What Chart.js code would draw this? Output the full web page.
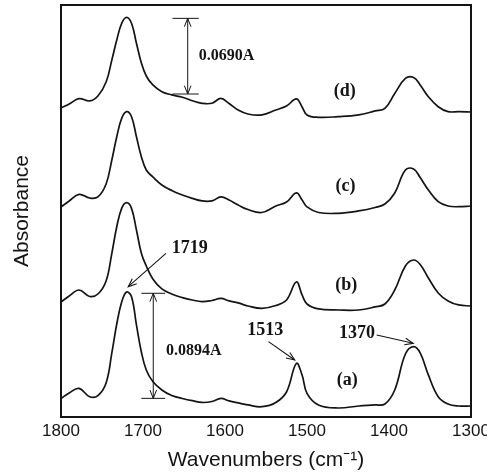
<!DOCTYPE html>
<html>
<head>
<meta charset="utf-8">
<script src="https://cdn.jsdelivr.net/npm/chart.js@4.4.1/dist/chart.umd.min.js"></script>
<style>
  html, body { margin: 0; padding: 0; background: #fff; }
  #wrap { width: 487px; height: 475px; position: relative; }
</style>
</head>
<body>
<div id="wrap"><canvas id="ir"></canvas></div>
<script>
// Stacked IR spectra (a)-(d), reversed wavenumber axis, absorbance without ticks.

const wavenumbers = [1800, 1790, 1778, 1765, 1755, 1745, 1738, 1732, 1726, 1720,
  1714, 1708, 1702, 1696, 1688, 1677, 1665, 1652, 1640, 1628,
  1616, 1605, 1595, 1584, 1572, 1555, 1538, 1525, 1513, 1506,
  1500, 1486, 1462, 1437, 1417, 1405, 1393, 1380, 1370, 1362,
  1352, 1340, 1328, 1315, 1300];

// absorbance as plotted (offsets already included)
const traceA = [0.0523, 0.0570, 0.0609, 0.0538, 0.0548, 0.0655, 0.0910, 0.1156, 0.1343, 0.1428,
  0.1388, 0.1148, 0.0918, 0.0765, 0.0667, 0.0595, 0.0548, 0.0523, 0.0504, 0.0489,
  0.0497, 0.0523, 0.0502, 0.0485, 0.0468, 0.0453, 0.0489, 0.0578, 0.0820, 0.0723,
  0.0567, 0.0468, 0.0442, 0.0459, 0.0468, 0.0476, 0.0595, 0.0901, 0.0963, 0.0910,
  0.0723, 0.0538, 0.0476, 0.0459, 0.0459];
const traceB = [0.1343, 0.1394, 0.1445, 0.1390, 0.1411, 0.1522, 0.1757, 0.1983, 0.2139, 0.2187,
  0.2139, 0.1955, 0.1757, 0.1649, 0.1539, 0.1454, 0.1411, 0.1380, 0.1360, 0.1347,
  0.1356, 0.1373, 0.1352, 0.1335, 0.1309, 0.1289, 0.1313, 0.1360, 0.1513, 0.1403,
  0.1326, 0.1284, 0.1275, 0.1275, 0.1301, 0.1326, 0.1445, 0.1649, 0.1700, 0.1662,
  0.1547, 0.1420, 0.1352, 0.1318, 0.1309];
const traceC = [0.2151, 0.2202, 0.2258, 0.2227, 0.2236, 0.2346, 0.2550, 0.2748, 0.2904, 0.2961,
  0.2918, 0.2748, 0.2578, 0.2465, 0.2406, 0.2338, 0.2291, 0.2253, 0.2224, 0.2202,
  0.2202, 0.2236, 0.2210, 0.2168, 0.2129, 0.2104, 0.2159, 0.2193, 0.2270, 0.2210,
  0.2151, 0.2104, 0.2097, 0.2117, 0.2146, 0.2176, 0.2270, 0.2465, 0.2474, 0.2401,
  0.2295, 0.2196, 0.2159, 0.2153, 0.2159];
const traceD = [0.2992, 0.3026, 0.3071, 0.3052, 0.3094, 0.3213, 0.3400, 0.3570, 0.3712, 0.3763,
  0.3712, 0.3542, 0.3375, 0.3264, 0.3188, 0.3131, 0.3103, 0.3083, 0.3054, 0.3032,
  0.3032, 0.3073, 0.3030, 0.2975, 0.2941, 0.2933, 0.2975, 0.3009, 0.3069, 0.3001,
  0.2933, 0.2913, 0.2918, 0.2933, 0.2967, 0.2989, 0.3115, 0.3243, 0.3251, 0.3188,
  0.3088, 0.3003, 0.2961, 0.2961, 0.2958];

const xTicks = [1800, 1700, 1600, 1500, 1400, 1300];

// trace letters: [text, wavenumber, absorbance]
const traceLabels = [
  ['(d)', 1454, 0.3137],
  ['(c)', 1453, 0.2323],
  ['(b)', 1452, 0.1488],
  ['(a)', 1451, 0.0680],
];

// height bars: [label, wavenumber, top A, bottom A, cap from, cap to, label wn, label A]
const heightBars = [
  ['0.0690A', 1645.5, 0.3754, 0.3111, 1664, 1632, 1632, 0.3434],
  ['0.0894A', 1687.5, 0.1417, 0.0524, 1702, 1673, 1672, 0.0929],
];

// peak callouts: [label, label wn, label A, arrow from wn, from A, to wn, to A]
const peakCallouts = [
  ['1719', 1643, 0.1802, 1672, 0.1757, 1718, 0.1473],
  ['1513', 1551, 0.1105, 1547, 0.1006, 1515, 0.0850],
  ['1370', 1439, 0.1077, 1415, 0.1063, 1370.5, 0.0992],
];

const INK = '#141414';
const SERIF = "'Liberation Serif', 'Times New Roman', serif";
const SANS = "'Liberation Sans', Arial, sans-serif";

function openHead(ctx, x1, y1, x2, y2, len) {
  const a = Math.atan2(y2 - y1, x2 - x1);
  const spread = 0.38;
  ctx.beginPath();
  ctx.moveTo(x2 - len * Math.cos(a - spread), y2 - len * Math.sin(a - spread));
  ctx.lineTo(x2, y2);
  ctx.lineTo(x2 - len * Math.cos(a + spread), y2 - len * Math.sin(a + spread));
  ctx.stroke();
}

const annotate = {
  id: 'annotate',
  afterDatasetsDraw(chart) {
    const { ctx, chartArea: ca, scales: { x, y } } = chart;
    ctx.save();
    ctx.strokeStyle = INK;
    ctx.fillStyle = INK;

    // frame
    ctx.lineWidth = 2;
    ctx.strokeRect(ca.left, ca.top, ca.right - ca.left, ca.bottom - ca.top);

    // trace letters
    ctx.font = 'bold 18px ' + SERIF;
    ctx.textAlign = 'center';
    ctx.textBaseline = 'middle';
    for (const [t, wn, a] of traceLabels) ctx.fillText(t, x.getPixelForValue(wn), y.getPixelForValue(a));

    // height bars with double arrows
    ctx.lineWidth = 1;
    for (const [t, wn, top, bot, c1, c2, lw, la] of heightBars) {
      const px = x.getPixelForValue(wn);
      const pt = y.getPixelForValue(top), pb = y.getPixelForValue(bot);
      ctx.beginPath();
      ctx.moveTo(x.getPixelForValue(c1), pt); ctx.lineTo(x.getPixelForValue(c2), pt);
      ctx.moveTo(x.getPixelForValue(c1), pb); ctx.lineTo(x.getPixelForValue(c2), pb);
      ctx.moveTo(px, pt); ctx.lineTo(px, pb);
      ctx.stroke();
      openHead(ctx, px, pb, px, pt, 9);
      openHead(ctx, px, pt, px, pb, 9);
      ctx.font = 'bold 16px ' + SERIF;
      ctx.textAlign = 'left';
      ctx.fillText(t, x.getPixelForValue(lw), y.getPixelForValue(la));
    }

    // peak callouts
    for (const [t, lw, la, fw, fa, tw, ta] of peakCallouts) {
      const x1 = x.getPixelForValue(fw), y1 = y.getPixelForValue(fa);
      const x2 = x.getPixelForValue(tw), y2 = y.getPixelForValue(ta);
      ctx.lineWidth = 1.1;
      ctx.beginPath(); ctx.moveTo(x1, y1); ctx.lineTo(x2, y2); ctx.stroke();
      openHead(ctx, x1, y1, x2, y2, 9);
      ctx.font = 'bold 18px ' + SERIF;
      ctx.textAlign = 'center';
      ctx.fillText(t, x.getPixelForValue(lw), y.getPixelForValue(la));
    }
    ctx.restore();
  }
};

const series = [traceA, traceB, traceC, traceD];

new Chart(document.getElementById('ir'), {
  type: 'line',
  data: {
    datasets: series.map(s => ({
      data: wavenumbers.map((w, i) => ({ x: w, y: s[i] })),
      borderColor: INK,
      borderWidth: 1.7,
      pointRadius: 0,
      fill: false,
      tension: 0.4,
    })),
  },
  options: {
    responsive: true,
    maintainAspectRatio: false,
    animation: false,
    layout: { padding: { top: 5, right: 16, bottom: 0, left: 0 } },
    plugins: { legend: { display: false }, tooltip: { enabled: false } },
    scales: {
      x: {
        type: 'linear',
        reverse: true,
        min: 1300,
        max: 1800,
        afterBuildTicks: sc => { sc.ticks = xTicks.map(v => ({ value: v })); },
        afterFit: sc => { sc.height = 58; sc.paddingRight = 0; sc.paddingLeft = 0; },
        ticks: {
          color: INK,
          padding: 4,
          maxRotation: 0,
          font: { size: 17, family: SANS },
          callback: v => String(v),
        },
        grid: { display: false, drawTicks: false },
        border: { display: false },
        title: {
          display: true,
          text: 'Wavenumbers (cm\u207B\u00B9)',
          color: INK,
          font: { size: 21, family: SANS },
          padding: { top: 0, bottom: 2 },
        },
      },
      y: {
        min: 0.03655,
        max: 0.38675,
        ticks: { display: false },
        grid: { display: false, drawTicks: false },
        border: { display: false },
        afterFit: sc => { sc.width = 61; },
        title: {
          display: true,
          text: 'Absorbance',
          color: INK,
          font: { size: 21, family: SANS },
          padding: { top: 10, bottom: 0 },
        },
      },
    },
  },
  plugins: [annotate],
});
</script>
</body>
</html>
